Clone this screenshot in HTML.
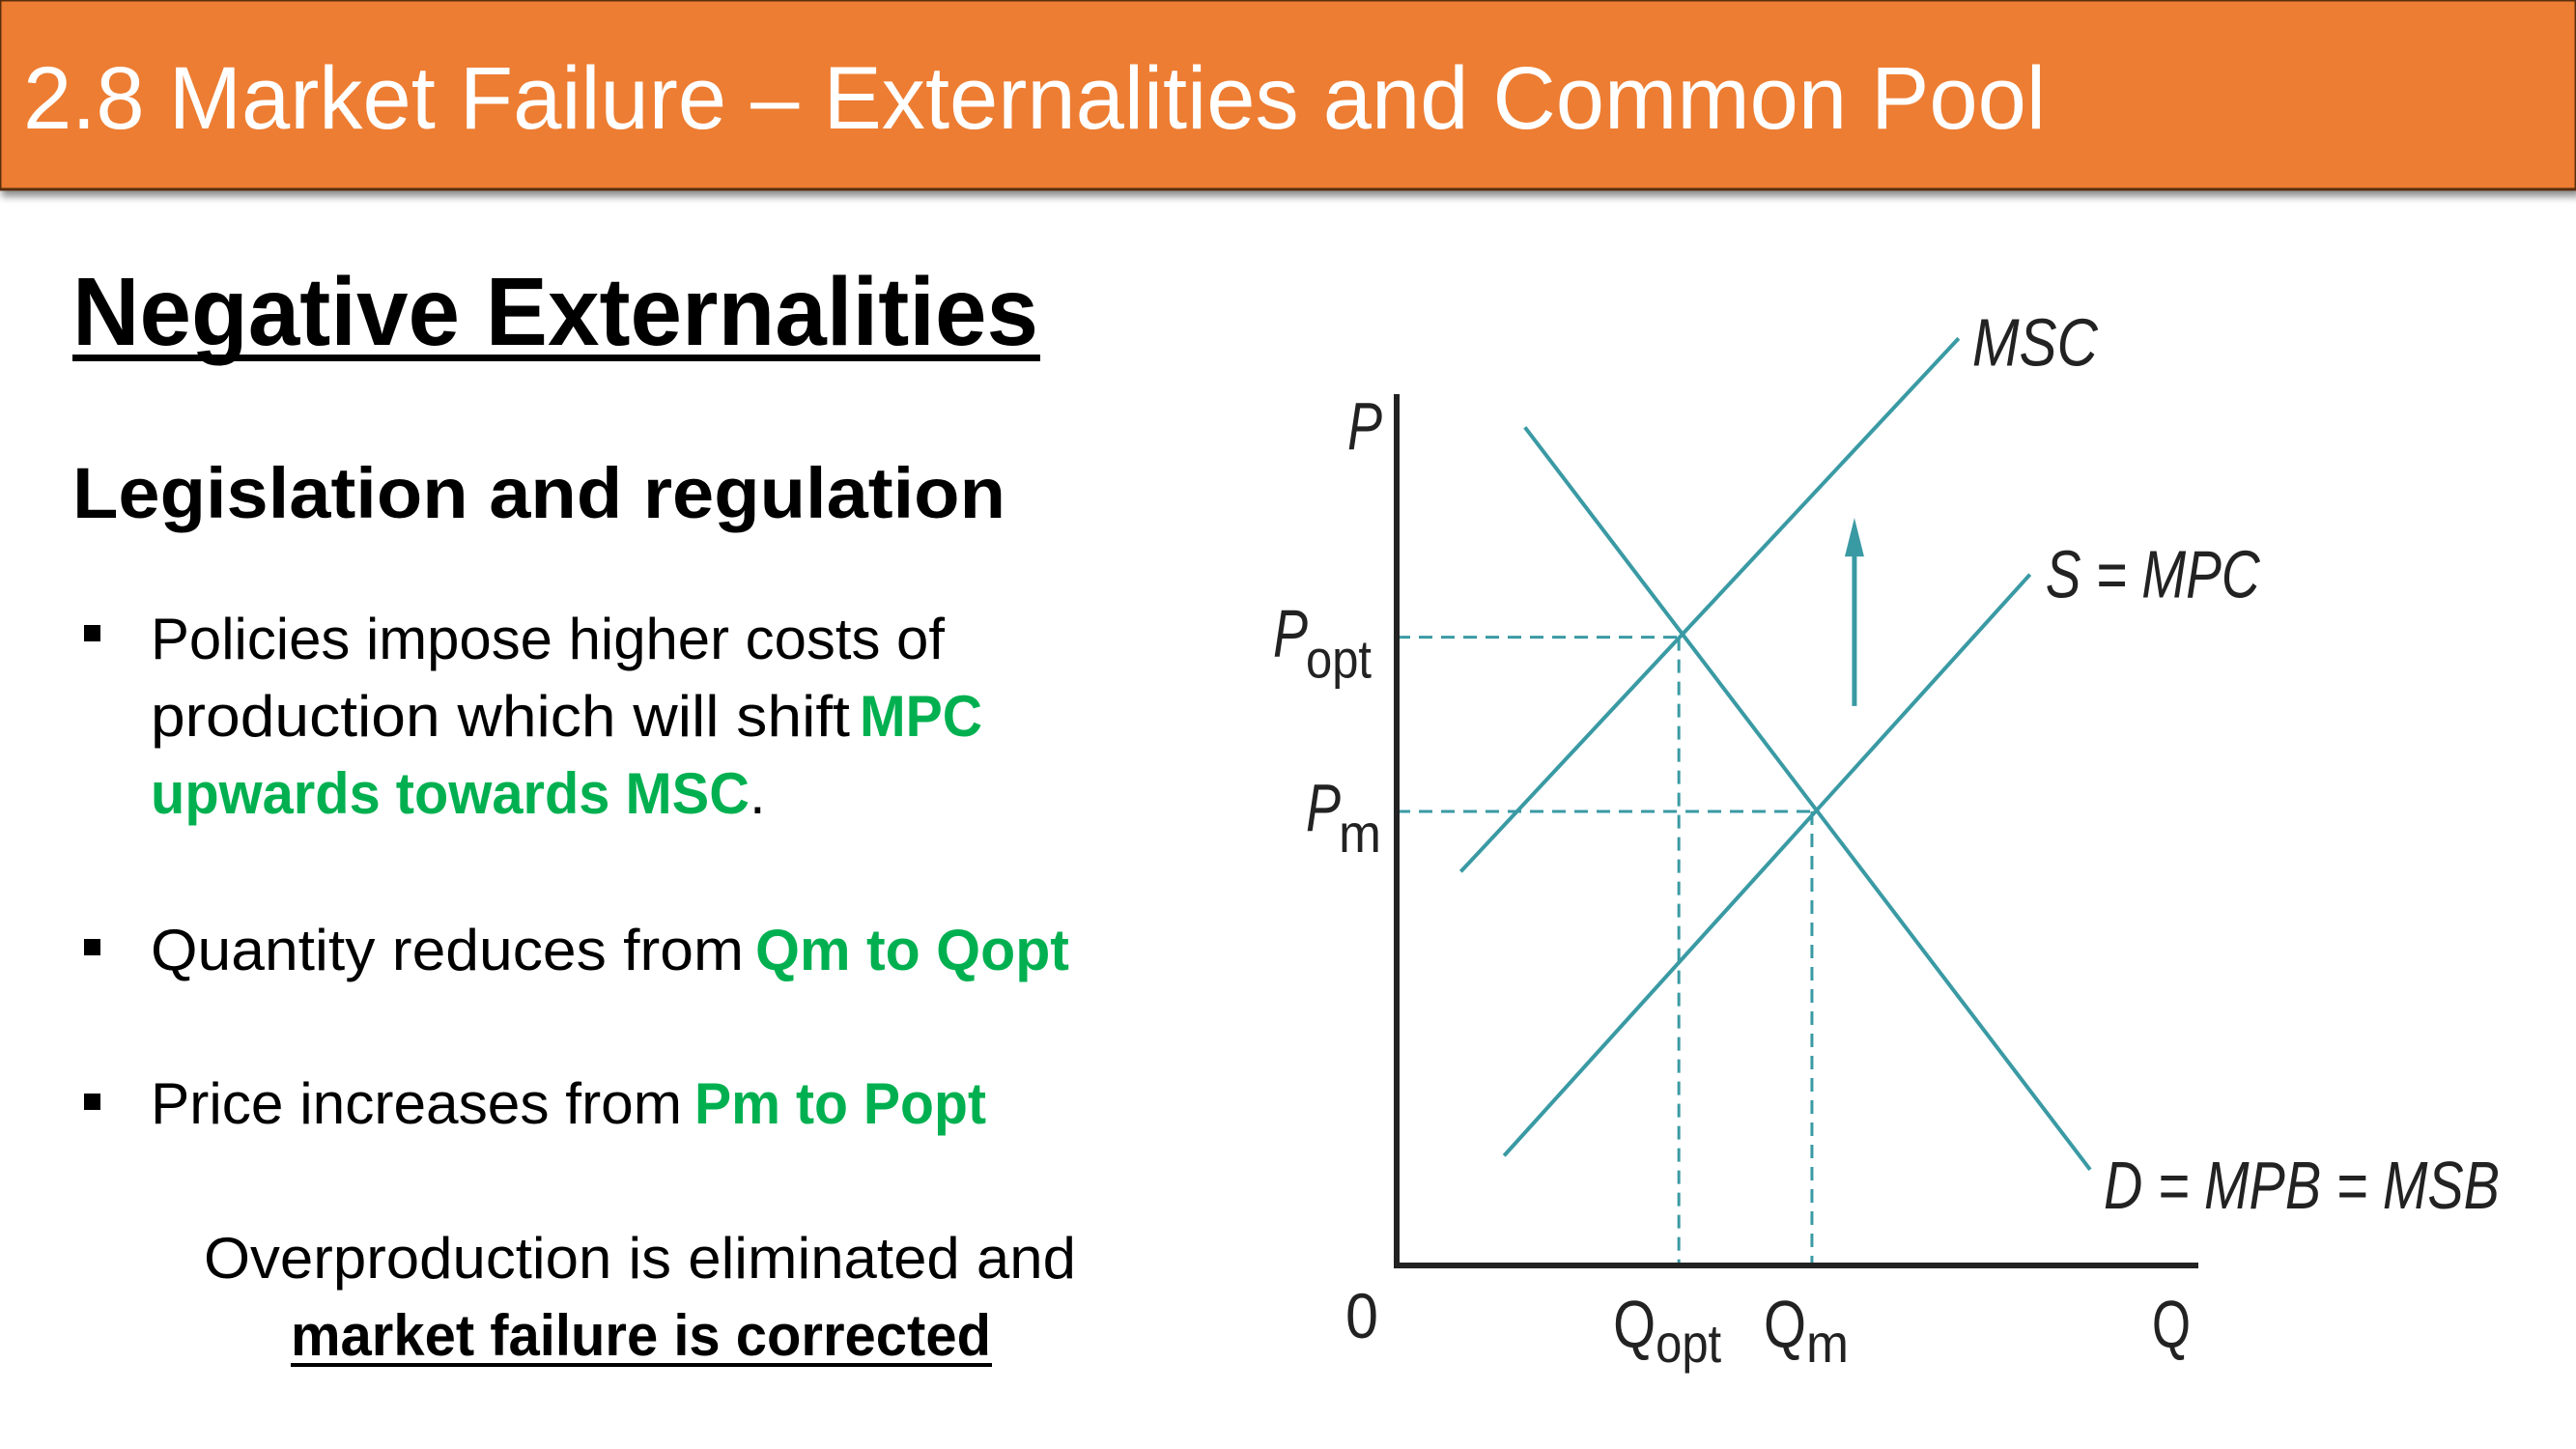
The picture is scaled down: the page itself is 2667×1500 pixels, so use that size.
<!DOCTYPE html>
<html><head><meta charset="utf-8">
<style>
html,body{margin:0;padding:0;background:#fff;}
svg{display:block;}
text{font-family:"Liberation Sans",sans-serif;}
</style></head>
<body>
<svg id="slide" width="2667" height="1500" viewBox="0 0 2667 1500" xmlns="http://www.w3.org/2000/svg">
  <defs>
    <filter id="sh" x="-5%" y="-20%" width="110%" height="150%"><feDropShadow dx="3" dy="6" stdDeviation="4" flood-color="#000" flood-opacity="0.45"/></filter>
  </defs>
  <g>
    <rect x="0" y="0" width="2667" height="196" fill="#ED7D31" stroke="#5a2d0c" stroke-width="3" filter="url(#sh)"/>
    <text x="24" y="133" font-size="92" fill="#fff" textLength="2094" lengthAdjust="spacingAndGlyphs">2.8 Market Failure – Externalities and Common Pool</text>
  </g>
  <g>
    <text x="75" y="357" font-size="100" font-weight="bold" textLength="1000" lengthAdjust="spacingAndGlyphs">Negative Externalities</text>
    <rect x="75" y="367" width="1002" height="7" fill="#000"/>
    <text x="75" y="536" font-size="74" font-weight="bold" textLength="966" lengthAdjust="spacingAndGlyphs">Legislation and regulation</text>

    <rect x="87" y="647" width="17" height="17" fill="#000"/>
    <text x="156" y="682" font-size="60" textLength="822" lengthAdjust="spacingAndGlyphs">Policies impose higher costs of</text>
    <text x="156" y="762" font-size="60" textLength="724" lengthAdjust="spacingAndGlyphs">production which will shift</text>
    <text x="890" y="762" font-size="60" font-weight="bold" fill="#00B050" textLength="127" lengthAdjust="spacingAndGlyphs">MPC</text>
    <text x="156" y="842" font-size="60" font-weight="bold" fill="#00B050" textLength="620" lengthAdjust="spacingAndGlyphs">upwards towards MSC</text>
    <text x="776" y="842" font-size="60">.</text>

    <rect x="87" y="972" width="17" height="17" fill="#000"/>
    <text x="156" y="1004" font-size="60" textLength="614" lengthAdjust="spacingAndGlyphs">Quantity reduces from</text>
    <text x="782" y="1004" font-size="60" font-weight="bold" fill="#00B050" textLength="325" lengthAdjust="spacingAndGlyphs">Qm to Qopt</text>

    <rect x="87" y="1132" width="17" height="17" fill="#000"/>
    <text x="156" y="1163" font-size="60" textLength="550" lengthAdjust="spacingAndGlyphs">Price increases from</text>
    <text x="719" y="1163" font-size="60" font-weight="bold" fill="#00B050" textLength="302" lengthAdjust="spacingAndGlyphs">Pm to Popt</text>

    <text x="211" y="1323" font-size="60" textLength="903" lengthAdjust="spacingAndGlyphs">Overproduction is eliminated and</text>
    <text x="301" y="1403" font-size="60" font-weight="bold" textLength="725" lengthAdjust="spacingAndGlyphs">market failure is corrected</text>
    <rect x="301" y="1411" width="726" height="4" fill="#000"/>
  </g>
  <g id="chart"></g>
</svg>
<script>
// data in chart units (x: 0-100 quantity, y: 0-100 price)
const curveNames = ['demand', 'msc', 'supply'];
const curveX1 = [16.0, 8.0, 13.4];
const curveY1 = [96.2, 45.2, 12.6];
const curveX2 = [86.5, 70.1, 79.0];
const curveY2 = [11.0, 106.4, 79.3];
const curveLabels = ['D = MPB = MSB', 'MSC', 'S = MPC'];
const eqQ = [35.2, 51.8];
const eqP = [72.1, 52.1];
const eqQLabels = ['Q', 'Q'];
const eqQSubs = ['opt', 'm'];
const eqPSubs = ['opt', 'm'];
const arrowX = [57.1];
const arrowFrom = [64.2];
const arrowTo = [85.8];

const X0 = 1446, XW = 830, Y0 = 1310, YH = 902;
function sx(v){ return X0 + v / 100 * XW; }
function sy(v){ return Y0 - v / 100 * YH; }
const TEAL = '#3A9AA4';
const NS = 'http://www.w3.org/2000/svg';
const g = document.getElementById('chart');
function mk(tag, attrs, parent){
  const el = document.createElementNS(NS, tag);
  for (const k in attrs) el.setAttribute(k, attrs[k]);
  (parent || g).appendChild(el);
  return el;
}

for (let i = 0; i < eqQ.length; i++){
  const h = mk('line', {x1: X0, y1: sy(eqP[i]), x2: sx(eqQ[i]), y2: sy(eqP[i]), stroke: TEAL, 'stroke-width': 3, 'stroke-dasharray': '14 9'});
  
  
  const v = mk('line', {x1: sx(eqQ[i]), y1: sy(eqP[i]), x2: sx(eqQ[i]), y2: Y0, stroke: TEAL, 'stroke-width': 3, 'stroke-dasharray': '14 9'});
  
  
}

for (let i = 0; i < curveNames.length; i++){
  const l = mk('line', {x1: sx(curveX1[i]), y1: sy(curveY1[i]), x2: sx(curveX2[i]), y2: sy(curveY2[i]), stroke: TEAL, 'stroke-width': 4});
  
  
}

const labelPos = [
  {x: sx(curveX2[0]) + 14, y: sy(curveY2[0]) + 40, w: 410},
  {x: sx(curveX2[1]) + 14, y: sy(curveY2[1]) + 28, w: 130},
  {x: sx(curveX2[2]) + 16, y: sy(curveY2[2]) + 24, w: 222}
];
for (let i = 0; i < curveLabels.length; i++){
  const t = mk('text', {x: labelPos[i].x, y: labelPos[i].y, 'font-size': 70, 'font-style': 'italic', fill: '#222', textLength: labelPos[i].w, lengthAdjust: 'spacingAndGlyphs'});
  t.textContent = curveLabels[i];
  
  
}

for (let i = 0; i < arrowX.length; i++){
  const a = mk('line', {x1: sx(arrowX[i]), y1: sy(arrowFrom[i]), x2: sx(arrowX[i]), y2: sy(arrowTo[i]) + 34, stroke: TEAL, 'stroke-width': 5});
  
  
  const ax = sx(arrowX[i]), ay = sy(arrowTo[i]);
  const h = mk('polygon', {points: `${ax},${ay} ${ax-10},${ay+40} ${ax+10},${ay+40}`, fill: TEAL});
  
  
}

const ya = mk('line', {x1: X0, y1: 408, x2: X0, y2: Y0 + 3, stroke: '#222', 'stroke-width': 6});


const xa = mk('line', {x1: X0 - 3, y1: Y0, x2: sx(100), y2: Y0, stroke: '#222', 'stroke-width': 6});



function axisText(txt, x, y, size, italic, name, w){
  const attrs = {x: x, y: y, 'font-size': size, fill: '#222'};
  if (italic) attrs['font-style'] = 'italic';
  if (w) { attrs.textLength = w; attrs.lengthAdjust = 'spacingAndGlyphs'; }
  const t = mk('text', attrs);
  t.textContent = txt;
  
  
  return t;
}
axisText('P', 1395, 465, 70, true, 'y-axis-title', 36);
axisText('Q', 2228, 1395, 70, false, 'x-axis-title', 40);
axisText('0', 1393, 1385, 66, false, 'origin-label', 34);

const pLabelX = [1318, 1352];
for (let i = 0; i < eqP.length; i++){
  const y = sy(eqP[i]) + 20;
  axisText('P', pLabelX[i], y, 70, true, 'price-label-' + eqPSubs[i], 36);
  axisText(eqPSubs[i], pLabelX[i] + 34, y + 22, 56, false, 'price-label-sub-' + eqPSubs[i], eqPSubs[i] === 'opt' ? 68 : 44);
}
const qSubW = [68, 44];
for (let i = 0; i < eqQ.length; i++){
  const x = sx(eqQ[i]) - (i === 0 ? 68 : 50);
  axisText(eqQLabels[i], x, 1395, 70, false, 'quantity-label-' + eqQSubs[i], 44);
  axisText(eqQSubs[i], x + 44, 1410, 56, false, 'quantity-label-sub-' + eqQSubs[i], qSubW[i]);
}
</script>
</body></html>
